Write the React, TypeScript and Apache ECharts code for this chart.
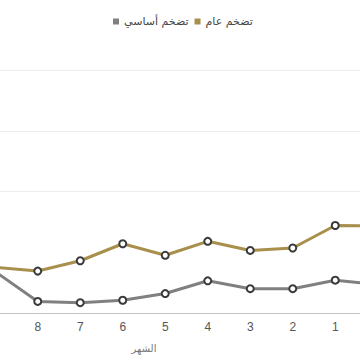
import React, { useEffect, useRef } from "react";
import * as echarts from "echarts";

const months = ["0", "1", "2", "3", "4", "5", "6", "7", "8", "9", "10", "11"];
const headlineName = "تضخم عام";
const coreName = "تضخم أساسي";
const headline = [1.43, 1.44, 1.07, 1.03, 1.18, 0.95, 1.14, 0.86, 0.69, 0.75, 0.8, 0.9];
const core = [0.47, 0.54, 0.4, 0.4, 0.53, 0.32, 0.21, 0.17, 0.19, 0.68, 0.75, 0.8];
const axisName = "الشهر";

const GOLD = "#a88f4c";
const GREY = "#808080";
const GRID = "#ececec";

const OFFSET = 111;
const WIDTH = 510;

export default function App() {
  const ref = useRef<HTMLDivElement>(null);
  useEffect(() => {
    if (!ref.current) return;
    const chart = echarts.init(ref.current, null, { renderer: "svg" });
    const marker = {
      symbol: "circle",
      symbolSize: 7,
      itemStyle: { color: "#ffffff", borderColor: "#3a3a3a", borderWidth: 2 },
    };
    chart.setOption({
      animation: false,
      backgroundColor: "#ffffff",
      legend: {
        top: 11,
        left: OFFSET + 108,
        icon: "rect",
        itemWidth: 6,
        itemHeight: 6,
        itemGap: 6,
        textStyle: { color: "#444", fontSize: 11, fontFamily: "DejaVu Sans" },
        data: [
          { name: coreName, itemStyle: { color: GREY, borderWidth: 0 } },
          { name: headlineName, itemStyle: { color: GOLD, borderWidth: 0 } },
        ],
      },
      grid: { left: 0, right: 0, top: 70, bottom: 47 },
      xAxis: {
        type: "category",
        data: months,
        inverse: true,
        boundaryGap: true,
        name: axisName,
        nameLocation: "middle",
        nameGap: 30,
        nameTextStyle: { color: "#777", fontSize: 10, fontFamily: "DejaVu Sans" },
        axisLine: { lineStyle: { color: "#c4c4c4", width: 1 } },
        axisTick: { length: 5, lineStyle: { color: "#c4c4c4" } },
        axisLabel: { color: "#555", fontSize: 12, margin: 8 },
      },
      yAxis: {
        type: "value",
        min: 0,
        max: 4,
        interval: 1,
        position: "right",
        axisLabel: { show: false },
        axisLine: { show: false },
        axisTick: { show: false },
        splitLine: {
          lineStyle: { color: [GRID, "rgba(0,0,0,0)", GRID, GRID, GRID], width: 1 },
        },
      },
      series: [
        {
          name: coreName,
          type: "line",
          data: core,
          lineStyle: { color: GREY, width: 3 },
          ...marker,
        },
        {
          name: headlineName,
          type: "line",
          data: headline,
          lineStyle: { color: GOLD, width: 3 },
          ...marker,
        },
      ],
    });
    return () => chart.dispose();
  }, []);
  return (
    <div
      style={{
        position: "fixed",
        left: 0,
        top: 0,
        width: 360,
        height: 360,
        overflow: "hidden",
        background: "#fff",
      }}
    >
      <div
        ref={ref}
        style={{ position: "absolute", left: -OFFSET, top: 0, width: WIDTH, height: 360 }}
      />
    </div>
  );
}
